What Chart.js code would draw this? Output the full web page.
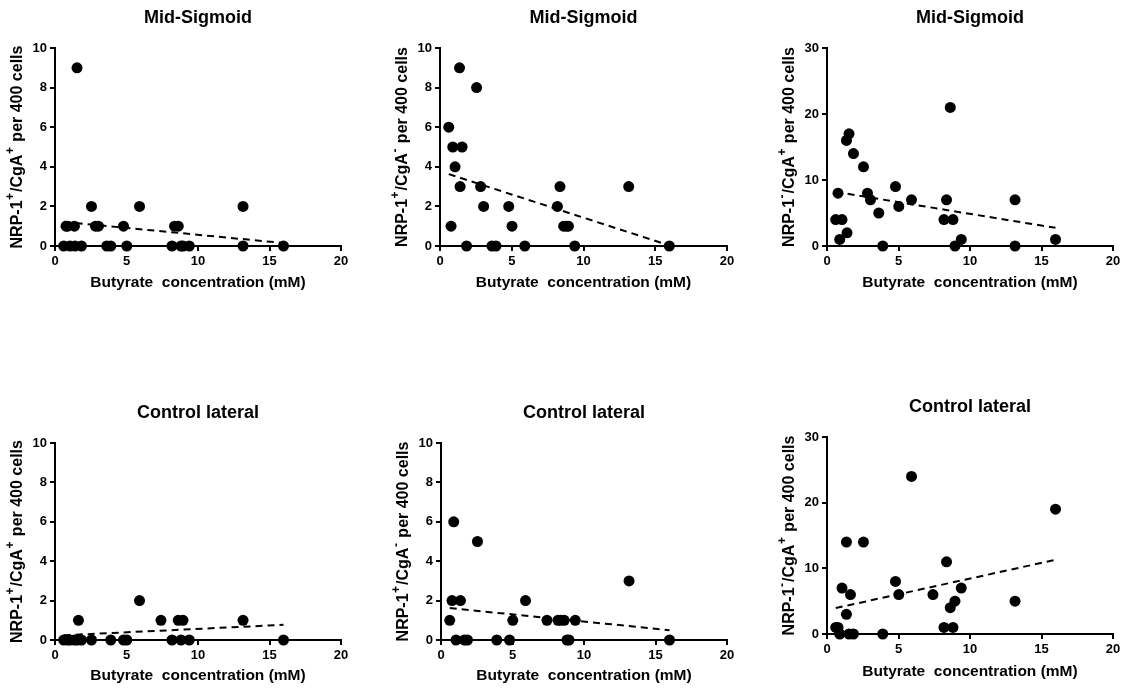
<!DOCTYPE html>
<html><head><meta charset="utf-8">
<script src="https://cdn.jsdelivr.net/npm/chart.js@4.4.1/dist/chart.umd.min.js"></script>
<style>
html,body{margin:0;padding:0;background:#fff;width:1127px;height:689px;overflow:hidden;}
.p{position:absolute;}
</style></head><body>
<div class="p" id="w0"><canvas id="c0"></canvas></div>
<div class="p" id="w1"><canvas id="c1"></canvas></div>
<div class="p" id="w2"><canvas id="c2"></canvas></div>
<div class="p" id="w3"><canvas id="c3"></canvas></div>
<div class="p" id="w4"><canvas id="c4"></canvas></div>
<div class="p" id="w5"><canvas id="c5"></canvas></div>
<script>
// ---------- DATA ----------
const xTickValues = [0, 5, 10, 15, 20];
const yTickValuesSmall = [0, 2, 4, 6, 8, 10];
const yTickValuesLarge = [0, 10, 20, 30];
const panelTitles = ['Mid-Sigmoid', 'Mid-Sigmoid', 'Mid-Sigmoid', 'Control lateral', 'Control lateral', 'Control lateral'];
const xAxisTitle = 'Butyrate  concentration (mM)';
// superscript signs of NRP-1 and CgA in each y-axis title
const nrpSigns = ['+', '+', '-', '+', '+', '-'];
const cgaSigns = ['+', '-', '+', '+', '-', '+'];

// Mid-Sigmoid, NRP-1+/CgA+
const midPP_x = [1.54, 2.55, 5.91, 13.15, 0.77, 0.89, 1.36, 2.83, 3.04, 4.79, 8.36, 8.62, 0.61, 1.05, 1.40, 1.85, 3.62, 3.90, 5.02, 8.18, 8.81, 8.95, 9.39, 13.15, 15.98];
const midPP_y = [9, 2, 2, 2, 1, 1, 1, 1, 1, 1, 1, 1, 0, 0, 0, 0, 0, 0, 0, 0, 0, 0, 0, 0, 0];
const midPP_fitX = [0.61, 15.98];
const midPP_fitY = [1.22, 0.15];

// Mid-Sigmoid, NRP-1+/CgA-
const midPN_x = [0.61, 0.89, 1.54, 1.05, 1.36, 1.40, 0.77, 1.85, 2.55, 2.83, 3.04, 3.62, 3.90, 4.79, 5.02, 5.91, 8.18, 8.36, 8.62, 8.81, 8.95, 9.39, 13.15, 15.98];
const midPN_y = [6, 5, 5, 4, 9, 3, 1, 0, 8, 3, 2, 0, 0, 2, 1, 0, 2, 3, 1, 1, 1, 0, 3, 0];
const midPN_fitX = [0.61, 15.98];
const midPN_fitY = [3.63, 0.03];

// Mid-Sigmoid, NRP-1-/CgA+
const midNP_x = [0.77, 0.61, 1.05, 0.89, 1.36, 1.54, 1.40, 1.85, 2.55, 2.83, 3.04, 3.62, 3.90, 4.79, 5.02, 5.91, 8.18, 8.36, 8.62, 8.81, 8.95, 9.39, 13.15, 13.15, 15.98];
const midNP_y = [8, 4, 4, 1, 16, 17, 2, 14, 12, 8, 7, 5, 0, 9, 6, 7, 4, 7, 21, 4, 0, 1, 7, 0, 1];
const midNP_fitX = [0.61, 15.98];
const midNP_fitY = [8.2, 2.75];

// Control lateral, NRP-1+/CgA+
const ctlPP_x = [5.91, 1.64, 7.41, 8.62, 8.95, 13.15, 0.61, 0.89, 1.05, 1.36, 1.54, 1.85, 2.55, 3.90, 4.79, 5.02, 8.18, 8.81, 9.39, 15.98];
const ctlPP_y = [2, 1, 1, 1, 1, 1, 0, 0, 0, 0, 0, 0, 0, 0, 0, 0, 0, 0, 0, 0];
const ctlPP_fitX = [0.61, 15.98];
const ctlPP_fitY = [0.24, 0.77];

// Control lateral, NRP-1+/CgA-
const ctlPN_x = [0.89, 2.55, 13.15, 0.77, 1.36, 5.91, 0.61, 5.02, 7.41, 8.18, 8.36, 8.62, 9.39, 1.05, 1.64, 1.85, 3.90, 4.79, 8.81, 8.95, 15.98];
const ctlPN_y = [6, 5, 3, 2, 2, 2, 1, 1, 1, 1, 1, 1, 1, 0, 0, 0, 0, 0, 0, 0, 0];
const ctlPN_fitX = [0.61, 15.98];
const ctlPN_fitY = [1.62, 0.50];

// Control lateral, NRP-1-/CgA+
const ctlNP_x = [0.61, 0.77, 0.89, 1.05, 1.36, 1.36, 1.54, 1.64, 1.85, 2.55, 3.90, 4.79, 5.02, 5.91, 7.41, 8.18, 8.36, 8.62, 8.81, 8.95, 9.39, 13.15, 15.98];
const ctlNP_y = [1, 1, 0, 7, 14, 3, 0, 6, 0, 14, 0, 8, 6, 24, 6, 1, 11, 4, 1, 5, 7, 5, 19];
const ctlNP_fitX = [0.61, 15.98];
const ctlNP_fitY = [3.95, 11.3];

// ---------- LAYOUT / STYLE ----------
const FONT = '"Liberation Sans", Arial, Helvetica, sans-serif';
const YW = 45, XH = 50;
const panels = [
  {xs: midPP_x, ys: midPP_y, fx: midPP_fitX, fy: midPP_fitY, yt: yTickValuesSmall, div: [0, 0, 370, 300], area: [55, 341, 48, 246], xto: 37},
  {xs: midPN_x, ys: midPN_y, fx: midPN_fitX, fy: midPN_fitY, yt: yTickValuesSmall, div: [375, 0, 375, 300], area: [440, 727, 48, 246], xto: 37},
  {xs: midNP_x, ys: midNP_y, fx: midNP_fitX, fy: midNP_fitY, yt: yTickValuesLarge, div: [755, 0, 372, 300], area: [827, 1113, 48, 246], xto: 37},
  {xs: ctlPP_x, ys: ctlPP_y, fx: ctlPP_fitX, fy: ctlPP_fitY, yt: yTickValuesSmall, div: [0, 385, 370, 304], area: [55, 341, 443, 640], xto: 36},
  {xs: ctlPN_x, ys: ctlPN_y, fx: ctlPN_fitX, fy: ctlPN_fitY, yt: yTickValuesSmall, div: [375, 385, 375, 304], area: [441, 727, 443, 640], xto: 36},
  {xs: ctlNP_x, ys: ctlNP_y, fx: ctlNP_fitX, fy: ctlNP_fitY, yt: yTickValuesLarge, div: [755, 385, 372, 304], area: [827, 1113, 437, 634], xto: 38}
];

const textPlugin = {
  id: 'panelText',
  afterDraw(chart, args, opts) {
    const {ctx, chartArea: a} = chart;
    ctx.save();
    ctx.fillStyle = '#000';
    ctx.textBaseline = 'middle';
    ctx.textAlign = 'center';
    ctx.font = 'bold 18px ' + FONT;
    ctx.fillText(opts.title, (a.left + a.right) / 2, a.top - 30);
    const mainF = 'bold 16px ' + FONT, supF = 'bold 12px ' + FONT;
    const segs = [
      {t: 'NRP-1', s: false}, {t: opts.s1, s: true}, {t: '/CgA', s: false}, {t: opts.s2, s: true}, {t: ' per 400 cells', s: false}
    ];
    let total = 0;
    segs.forEach(g => { ctx.font = g.s ? supF : mainF; g.w = ctx.measureText(g.t).width + (g.s ? 1.5 : 0); total += g.w; });
    ctx.translate(a.left - 37.5, (a.top + a.bottom) / 2);
    ctx.rotate(-Math.PI / 2);
    ctx.textAlign = 'left';
    let x = -total / 2;
    segs.forEach(g => {
      ctx.font = g.s ? supF : mainF;
      ctx.fillText(g.t, x + (g.s ? 0.5 : 0), g.s ? -7 : 0);
      x += g.w;
    });
    ctx.restore();
  }
};

function axisCommon(tickVals) {
  return {
    type: 'linear',
    min: tickVals[0],
    max: tickVals[tickVals.length - 1],
    afterBuildTicks: s => { s.ticks = tickVals.map(v => ({value: v})); },
    ticks: {color: '#000', font: {family: FONT, size: 13, weight: 'bold'}, padding: 3},
    grid: {drawOnChartArea: false, drawTicks: true, tickLength: 5, color: '#000', lineWidth: 2, tickColor: '#000', tickWidth: 2},
    border: {display: true, color: '#000', width: 2}
  };
}

panels.forEach((p, i) => {
  const [dx, dy, dw, dh] = p.div;
  const [L, R, T, B] = p.area;
  const wrap = document.getElementById('w' + i);
  wrap.style.left = dx + 'px'; wrap.style.top = dy + 'px';
  wrap.style.width = dw + 'px'; wrap.style.height = dh + 'px';
  const cv = document.getElementById('c' + i);
  cv.width = dw; cv.height = dh;
  cv.style.width = dw + 'px'; cv.style.height = dh + 'px';
  const xAxis = axisCommon(xTickValues);
  xAxis.afterFit = s => { s.height = XH; };
  const titleLH = 15.5 * 1.2;
  xAxis.title = {display: true, text: xAxisTitle, color: '#000', font: {family: FONT, size: 15.5, weight: 'bold', lineHeight: 1.2},
    padding: {top: 0, bottom: XH - p.xto - titleLH / 2}};
  const yAxis = axisCommon(p.yt);
  yAxis.afterFit = s => { s.width = YW; };
  new Chart(cv, {
    type: 'scatter',
    data: {
      datasets: [
        {type: 'line', data: p.fx.map((v, k) => ({x: v, y: p.fy[k]})), borderColor: '#000', borderWidth: 2, borderDash: [7, 5],
          pointRadius: 0, fill: false, clip: false, order: 2},
        {type: 'scatter', data: p.xs.map((v, k) => ({x: v, y: p.ys[k]})), backgroundColor: '#000', borderColor: '#000',
          pointRadius: 5.5, pointHoverRadius: 5.5, borderWidth: 0, clip: false, order: 1}
      ]
    },
    options: {
      responsive: false,
      animation: false,
      events: [],
      layout: {padding: {left: L - dx - YW, right: dx + dw - R, top: T - dy, bottom: dy + dh - B - XH}},
      scales: {x: xAxis, y: yAxis},
      plugins: {
        legend: {display: false},
        tooltip: {enabled: false},
        panelText: {title: panelTitles[i], s1: nrpSigns[i], s2: cgaSigns[i]}
      }
    },
    plugins: [textPlugin]
  });
});
</script>
</body></html>
